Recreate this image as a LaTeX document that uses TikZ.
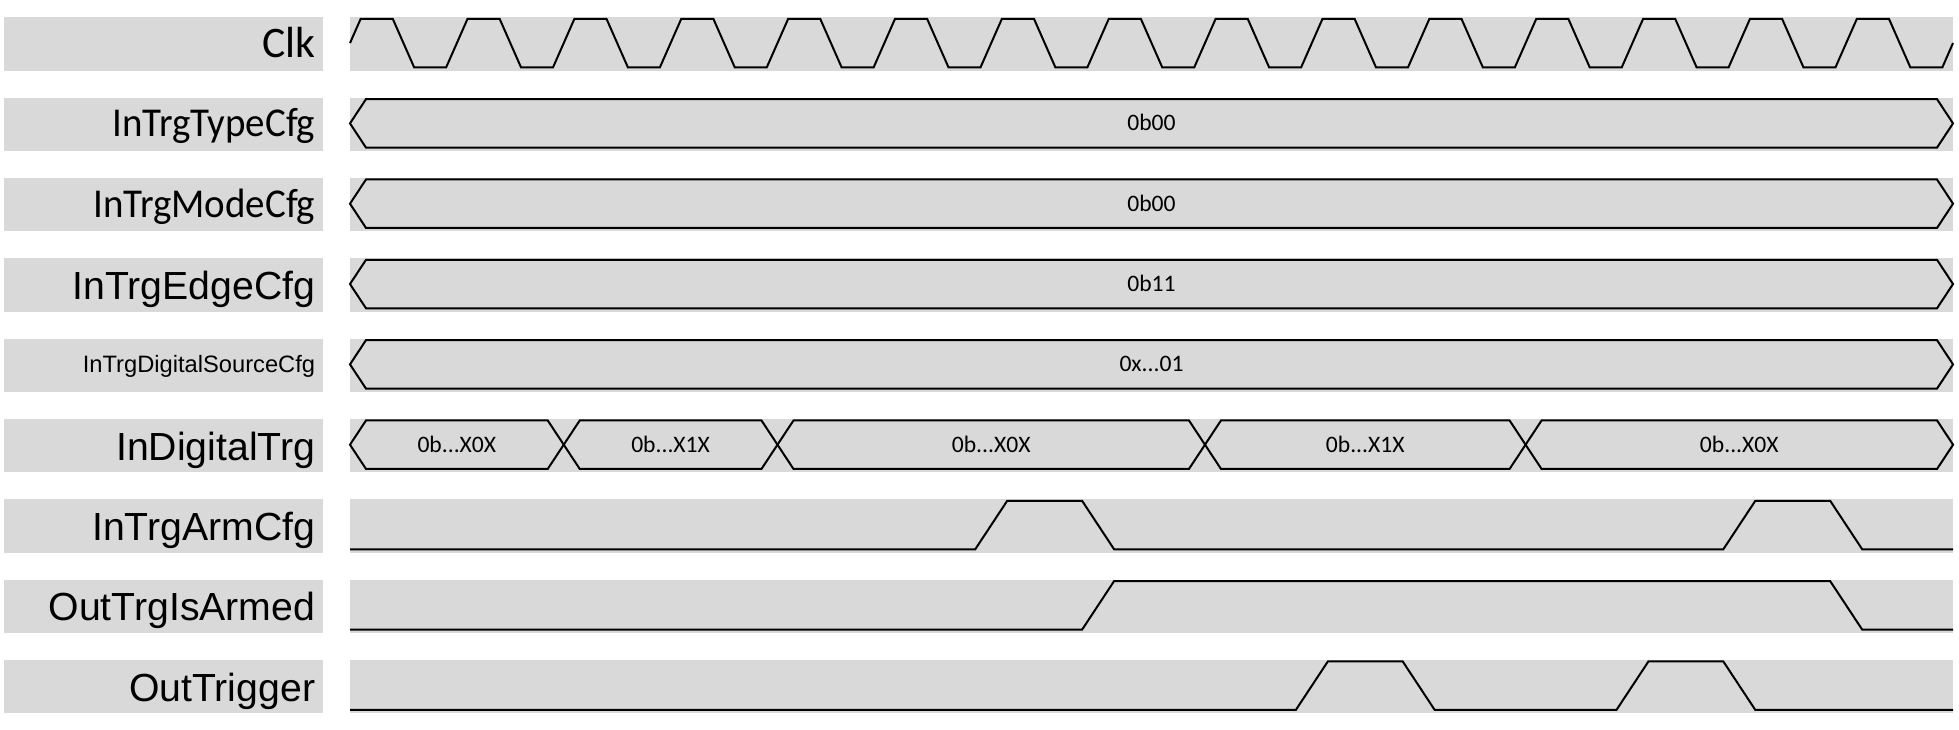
\documentclass[tikz,border=0pt]{standalone}
\usepackage{fontspec}
\setmainfont{Carlito}
\newfontfamily\arialf{Liberation Sans}
\newfontfamily\carlitolab[FakeStretch=0.95]{Carlito}
\definecolor{boxgray}{RGB}{217,217,217}
\newcommand{\threedots}{...}
\begin{document}
\begin{tikzpicture}[x=0.5pt,y=-0.5pt,
  wave/.style={draw=black,line width=1pt,line join=miter},
  lblc/.style={font=\carlitolab\fontsize{20.5pt}{22pt}\selectfont,inner sep=0pt,anchor=base east},
  lblk/.style={font=\fontsize{21.8pt}{23pt}\selectfont,inner sep=0pt,anchor=base east},
  lbla/.style={font=\arialf\fontsize{19.6pt}{21pt}\selectfont,inner sep=0pt,anchor=base east},
  lbls/.style={font=\arialf\fontsize{11.85pt}{13pt}\selectfont,inner sep=0pt,anchor=base east},
  val/.style={font=\fontsize{11.8pt}{13pt}\selectfont,inner sep=0pt,anchor=base}]
\useasboundingbox (0,0) rectangle (1959,729);
\def\T{106.87}
\def\yh{1.5}
\def\yl{50}
\def\ym{25.75}
\def\rowH{53.5}
\def\lx{315.5}
% row backgrounds
\foreach \k in {0,...,8}{
  \begin{scope}[shift={(0,{17.3+80.33*\k})}]
    \fill[boxgray] (3.5,0) rectangle (323,\rowH);
    \fill[boxgray] (350,0) rectangle (1953,\rowH);
  \end{scope}
}
% Row 0: Clk
\begin{scope}[shift={(0,17.3)}]
  \node[lblk] (lClk) at (\lx,{\ym+14.5}) {Clk};
  \draw[wave] (350,\ym) -- ({350+0.1*\T},\yh)
    \foreach \k in {0,...,13}{ -- ({350+(\k+0.4)*\T},\yh) -- ({350+(\k+0.6)*\T},\yl) -- ({350+(\k+0.9)*\T},\yl) -- ({350+(\k+1.1)*\T},\yh) }
    -- ({350+14.4*\T},\yh) -- ({350+14.6*\T},\yl) -- ({350+14.9*\T},\yl) -- (1953,\ym);
\end{scope}
% Row 1: InTrgTypeCfg
\begin{scope}[shift={(0,{17.3+80.33})}]
  \node[lblc] (lType) at (\lx,{\ym+13}) {InTrgTypeCfg};
  \draw[wave] (350,\ym) -- (366,\yh) -- (1937,\yh) -- (1953,\ym) -- (1937,\yl) -- (366,\yl) -- cycle;
  \node[val] (vType) at (1151.5,{\ym+7.4}) {0b00};
\end{scope}
% Row 2: InTrgModeCfg
\begin{scope}[shift={(0,{17.3+2*80.33})}]
  \node[lblc] (lMode) at (\lx,{\ym+13.5}) {InTrgModeCfg};
  \draw[wave] (350,\ym) -- (366,\yh) -- (1937,\yh) -- (1953,\ym) -- (1937,\yl) -- (366,\yl) -- cycle;
  \node[val] (vMode) at (1151.5,{\ym+7.4}) {0b00};
\end{scope}
% Row 3: InTrgEdgeCfg
\begin{scope}[shift={(0,{17.3+3*80.33})}]
  \node[lbla] (lEdge) at (\lx,{\ym+15.5}) {InTrgEdgeCfg};
  \draw[wave] (350,\ym) -- (366,\yh) -- (1937,\yh) -- (1953,\ym) -- (1937,\yl) -- (366,\yl) -- cycle;
  \node[val] (vEdge) at (1151.5,{\ym+7.4}) {0b11};
\end{scope}
% Row 4: InTrgDigitalSourceCfg
\begin{scope}[shift={(0,{17.3+4*80.33})}]
  \node[lbls] (lSrc) at (\lx,{\ym+8.5}) {InTrgDigitalSourceCfg};
  \draw[wave] (350,\ym) -- (366,\yh) -- (1937,\yh) -- (1953,\ym) -- (1937,\yl) -- (366,\yl) -- cycle;
  \node[val] (vSrc) at (1151.5,{\ym+7.4}) {0x\threedots 01};
\end{scope}
% Row 5: InDigitalTrg
\begin{scope}[shift={(0,{17.3+5*80.33})}]
  \node[lbla] (lDig) at (\lx,{\ym+15.5}) {InDigitalTrg};
  \foreach \a/\b/\bit/\nm in {0/2/0/vD1,2/4/1/vD2,4/8/0/vD3,8/11/1/vD4,11/15/0/vD5}{
    \draw[wave] ({350+\a*\T},\ym) -- ({350+\a*\T+16},\yh) -- ({350+\b*\T-16},\yh) -- ({350+\b*\T},\ym) -- ({350+\b*\T-16},\yl) -- ({350+\a*\T+16},\yl) -- cycle;
    \node[val] (\nm) at ({350+(\a+\b)*\T/2},{\ym+7.4}) {0b\threedots X\bit X};
  }
\end{scope}
% Row 6: InTrgArmCfg
\begin{scope}[shift={(0,{17.3+6*80.33})}]
  \node[lbla] (lArm) at (\lx,{\ym+15.5}) {InTrgArmCfg};
  \draw[wave] (350,\yl) -- ({350+6*\T-16},\yl) -- ({350+6*\T+16},\yh) -- ({350+7*\T-16},\yh) -- ({350+7*\T+16},\yl)
    -- ({350+13*\T-16},\yl) -- ({350+13*\T+16},\yh) -- ({350+14*\T-16},\yh) -- ({350+14*\T+16},\yl) -- (1953,\yl);
\end{scope}
% Row 7: OutTrgIsArmed
\begin{scope}[shift={(0,{17.3+7*80.33})}]
  \node[lbla] (lIsA) at (\lx,{\ym+15.5}) {OutTrgIsArmed};
  \draw[wave] (350,\yl) -- ({350+7*\T-16},\yl) -- ({350+7*\T+16},\yh) -- ({350+14*\T-16},\yh) -- ({350+14*\T+16},\yl) -- (1953,\yl);
\end{scope}
% Row 8: OutTrigger
\begin{scope}[shift={(0,{17.3+8*80.33})}]
  \node[lbla] (lOut) at (\lx,{\ym+15.5}) {OutTrigger};
  \draw[wave] (350,\yl) -- ({350+9*\T-16},\yl) -- ({350+9*\T+16},\yh) -- ({350+10*\T-16},\yh) -- ({350+10*\T+16},\yl)
    -- ({350+12*\T-16},\yl) -- ({350+12*\T+16},\yh) -- ({350+13*\T-16},\yh) -- ({350+13*\T+16},\yl) -- (1953,\yl);
\end{scope}
\end{tikzpicture}
\end{document}
